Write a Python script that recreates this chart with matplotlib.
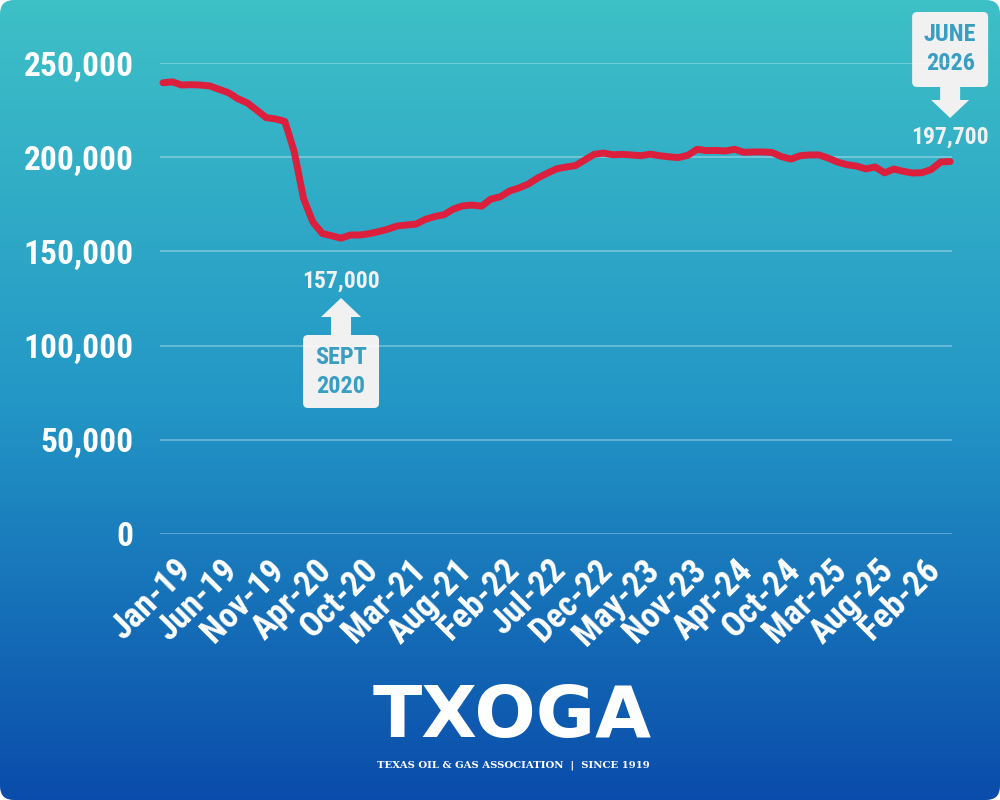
import matplotlib
matplotlib.use('Agg')
import matplotlib.pyplot as plt
import numpy as np
from matplotlib.patches import FancyBboxPatch, Polygon
from matplotlib.colors import LinearSegmentedColormap

# monthly employment (85 reported points, Jan-19 .. Jun-26)
jobs = [239500, 240000, 238300, 238500, 238300, 237800, 236000, 234200, 231000, 228800,
        225000, 221000, 220300, 219000, 203000, 178000, 165500, 159500, 158300, 157000,
        158700, 158700, 159400, 160500, 161800, 163500, 164000, 164500, 167000, 168500,
        169500, 172500, 174200, 174600, 174000, 177800, 179000, 182100, 183700, 185800,
        189000, 191500, 193800, 194800, 195500, 198500, 201500, 202200, 201300, 201500,
        201200, 200800, 201600, 200800, 200200, 199800, 201000, 204200, 203500, 203600,
        203300, 204200, 202600, 202800, 202800, 202500, 200300, 199000, 200800, 201200,
        201200, 199500, 197400, 196000, 195300, 193800, 194800, 191700, 193700, 192500,
        191600, 191800, 193500, 197500, 197700]
tick_labels = ['Jan-19', 'Jun-19', 'Nov-19', 'Apr-20', 'Oct-20', 'Mar-21', 'Aug-21',
               'Feb-22', 'Jul-22', 'Dec-22', 'May-23', 'Nov-23', 'Apr-24', 'Oct-24',
               'Mar-25', 'Aug-25', 'Feb-26']
y_ticks = [0, 50000, 100000, 150000, 200000, 250000]
low_idx, low_label, low_date = 19, '157,000', 'SEPT\n2020'
last_label, last_date = '197,700', 'JUNE\n2026'

cond = ['Roboto Condensed', 'Roboto', 'DejaVu Sans']
box_text = '#3a9ec3'
box_fill = '#f1f1f1'

fig = plt.figure(figsize=(10, 8), dpi=100)
fig.patch.set_facecolor('white')

# background gradient with rounded corners
bg = fig.add_axes([0, 0, 1, 1])
bg.set_xlim(0, 1000)
bg.set_ylim(800, 0)
bg.axis('off')
cmap = LinearSegmentedColormap.from_list('bg', ['#3ec0c7', '#2397c6', '#0a4cab'])
grad = np.linspace(0, 1, 256).reshape(-1, 1)
im = bg.imshow(grad, cmap=cmap, aspect='auto', extent=[0, 1000, 800, 0], zorder=0)
clip = FancyBboxPatch((0, 0), 1000, 800, boxstyle='round,pad=0,rounding_size=14',
                      transform=bg.transData, facecolor='none', edgecolor='none')
bg.add_patch(clip)
im.set_clip_path(clip)

# main chart axes
ax = fig.add_axes([0.16, 0.3325, 0.792, 0.58875])
ax.patch.set_alpha(0)
x = np.arange(len(jobs))
ax.set_xlim(-0.32, 84.2)
ax.set_ylim(0, 250000)
for v in y_ticks:
    ax.axhline(v, color='white', alpha=0.35, lw=1.2, zorder=1)
ax.plot(x, jobs, color='#dc1f3c', lw=5, solid_capstyle='round',
        solid_joinstyle='round', zorder=3, clip_on=False)

for s in ax.spines.values():
    s.set_visible(False)
ax.set_xticks([])
ax.set_yticks(y_ticks)
ax.set_yticklabels([f'{v:,}' for v in y_ticks], family=cond, fontweight='bold',
                   fontsize=24, color='white')
ax.tick_params(axis='y', length=0, pad=19)

for k, lab in enumerate(tick_labels):
    ax.annotate(lab, xy=(k * 5, 0), xytext=(8, -14), textcoords='offset points',
                ha='right', va='top', rotation=45, rotation_mode='anchor',
                family=cond, fontweight='bold', fontsize=25, color='white',
                annotation_clip=False)

# low point callout (Sept 2020)
ax.annotate(low_label, xy=(low_idx, jobs[low_idx]), xytext=(0, -31),
            textcoords='offset points', ha='center', va='center', family=cond,
            fontweight='bold', fontsize=17, color='#f1f1f1', annotation_clip=False)
tr = ax.transData
cx, cy = tr.transform((low_idx, jobs[low_idx]))
inv = bg.transData.inverted()
px, _ = inv.transform((cx, cy))
bg.add_patch(Polygon([(px, 298), (px + 20, 317), (px + 10, 317), (px + 10, 338),
                      (px - 10, 338), (px - 10, 317), (px - 20, 317)],
                     closed=True, facecolor=box_fill, edgecolor='none', zorder=4))
bg.add_patch(FancyBboxPatch((px - 38, 335), 76, 73, boxstyle='round,pad=0,rounding_size=5',
                            facecolor=box_fill, edgecolor='none', zorder=4))
bg.text(px, 372, low_date, ha='center', va='center', family=cond, fontweight='bold',
        fontsize=17.5, color=box_text, linespacing=1.35, zorder=5)

# last point callout (June 2026)
lx, ly = tr.transform((len(jobs) - 1, jobs[-1]))
qx, _ = inv.transform((lx, ly))
bg.text(qx, 137, last_label, ha='center', va='center', family=cond, fontweight='bold',
        fontsize=17, color='#f1f1f1', zorder=5)
bg.add_patch(Polygon([(qx, 118), (qx + 19, 100), (qx + 10, 100), (qx + 10, 84),
                      (qx - 10, 84), (qx - 10, 100), (qx - 19, 100)],
                     closed=True, facecolor=box_fill, edgecolor='none', zorder=4))
bg.add_patch(FancyBboxPatch((qx - 38, 12), 76, 75, boxstyle='round,pad=0,rounding_size=5',
                            facecolor=box_fill, edgecolor='none', zorder=4))
bg.text(qx, 49, last_date, ha='center', va='center', family=cond, fontweight='bold',
        fontsize=17.5, color=box_text, linespacing=1.35, zorder=5)

# logo
bg.text(512, 718, 'TXOGA', ha='center', va='center', family='DejaVu Sans',
        fontweight='heavy', fontsize=52, color='white', zorder=5)
bg.text(513, 765, 'TEXAS OIL & GAS ASSOCIATION  |  SINCE 1919', ha='center',
        va='center', family='DejaVu Serif', fontweight='bold', fontsize=7.3,
        color='white', zorder=5)

fig.savefig('out.png', dpi=100)
